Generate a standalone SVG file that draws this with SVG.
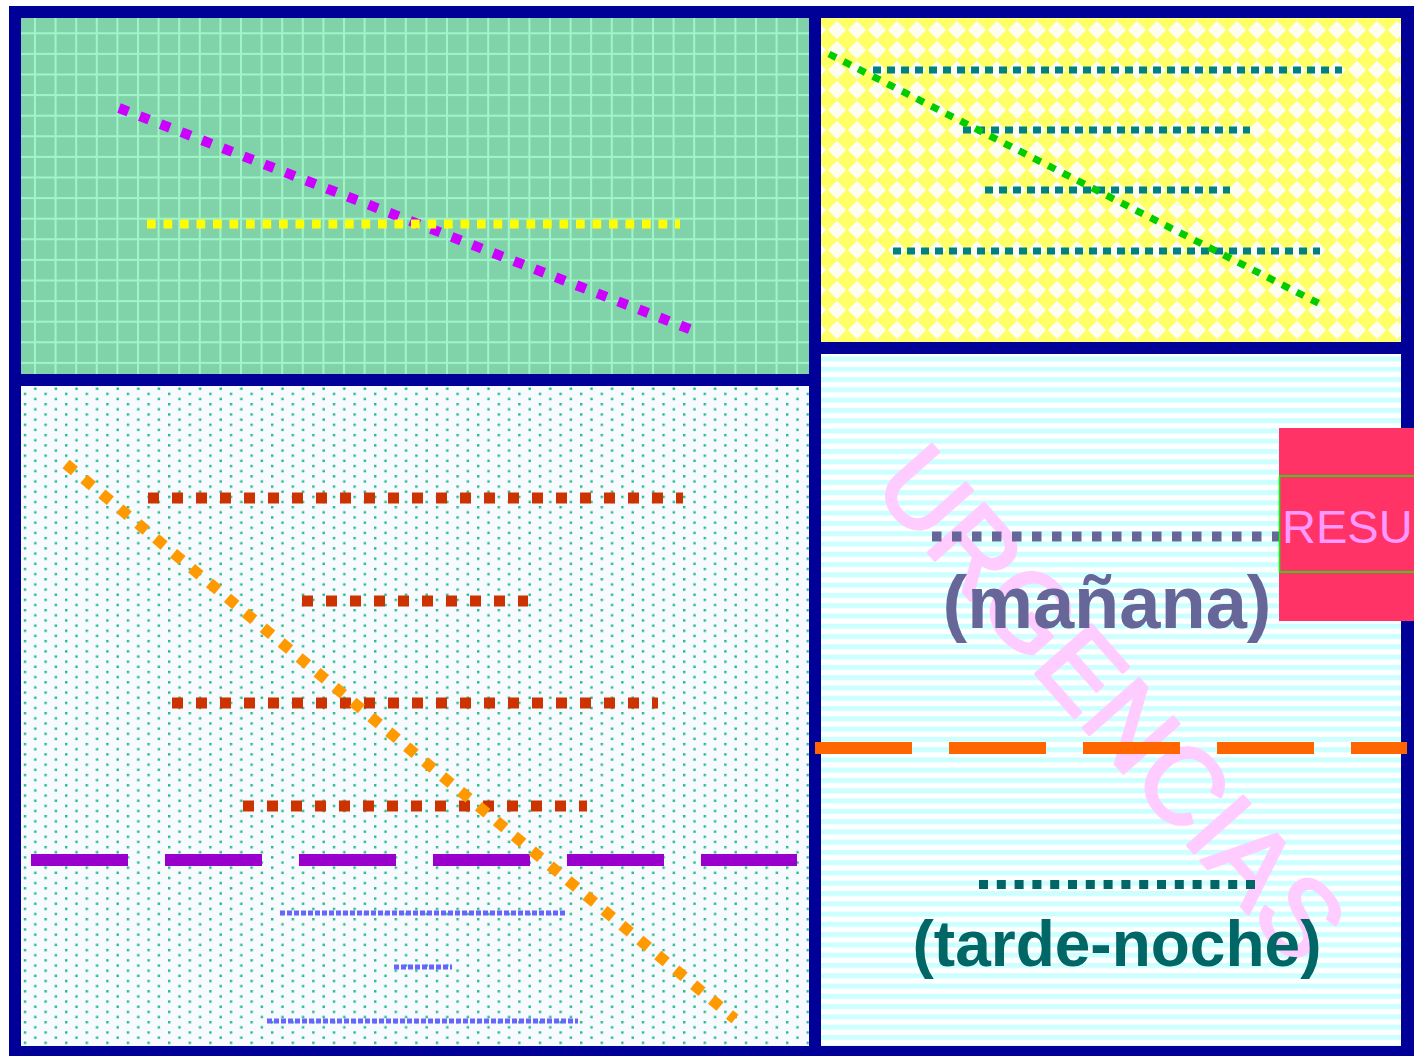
<svg xmlns="http://www.w3.org/2000/svg" width="1414" height="1056" viewBox="0 0 1414 1056">
<defs>
<pattern id="grid" x="34" y="32.3" width="20.6" height="20.6" patternUnits="userSpaceOnUse">
<rect width="20.6" height="20.6" fill="#80d3a8"/>
<rect width="2" height="20.6" fill="#9ff5c8"/>
<rect width="20.6" height="2" fill="#9ff5c8"/>
</pattern>
<pattern id="diam" x="817" y="10" width="20" height="20" patternUnits="userSpaceOnUse">
<rect width="20" height="20" fill="#fdfdf0"/>
<polygon points="10,-0.8 20.8,10 10,20.8 -0.8,10" fill="#ffff66"/>
</pattern>
<pattern id="dots" x="23.8" y="382.4" width="20.6" height="10.3" patternUnits="userSpaceOnUse">
<rect width="20.6" height="10.3" fill="#f7faff"/>
<rect width="2.4" height="2.4" fill="#22bb88"/>
<rect x="10.3" y="5.15" width="2.4" height="2.4" fill="#22bb88"/>
</pattern>
<pattern id="stripes" x="0" y="356.5" width="20" height="10.28" patternUnits="userSpaceOnUse">
<rect width="20" height="10.28" fill="#ffffff"/>
<rect width="20" height="5" fill="#ccffff"/>
</pattern>
<style>
.dot{fill:none;stroke-linecap:butt}
.big{font-family:"Liberation Sans",Arial,sans-serif;font-weight:bold;text-anchor:middle}
</style>
</defs>
<rect width="1414" height="1056" fill="#ffffff"/>
<rect x="9" y="6" width="1405" height="1050" fill="#000099"/>
<g id="panel-top-left"><rect x="21" y="18" width="788" height="356" fill="url(#grid)"/></g>
<g id="panel-top-right"><rect x="821" y="18" width="580" height="324" fill="url(#diam)"/></g>
<g id="panel-bottom-left"><rect x="21" y="386" width="788" height="660" fill="url(#dots)"/></g>
<g id="panel-bottom-right"><rect x="821" y="354" width="580" height="692" fill="url(#stripes)"/></g>
<g id="watermark"><text transform="translate(1083.5,728) rotate(48.5)" x="0" y="0" font-family="Liberation Sans, Arial, sans-serif" font-size="108" fill="#ffccff" stroke="#ffccff" stroke-width="3" stroke-linejoin="round" text-anchor="middle">URGENCIAS</text></g>
<g id="connectors">
<line class="dot" x1="119" y1="108" x2="692" y2="330" stroke="#cc00ff" stroke-width="10" stroke-dasharray="10 12.3"/>
<line class="dot" x1="147" y1="224" x2="680" y2="224" stroke="#ffff00" stroke-width="9" stroke-dasharray="8.7 7.8"/>
<line class="dot" x1="873" y1="70" x2="1342" y2="70" stroke="#008080" stroke-width="7" stroke-dasharray="8 6"/>
<line class="dot" x1="963" y1="130" x2="1250" y2="130" stroke="#008080" stroke-width="7" stroke-dasharray="8 6"/>
<line class="dot" x1="985" y1="190" x2="1230" y2="190" stroke="#008080" stroke-width="7" stroke-dasharray="8 6"/>
<line class="dot" x1="893" y1="251" x2="1320" y2="251" stroke="#008080" stroke-width="7" stroke-dasharray="8 6"/>
<line class="dot" x1="829" y1="54" x2="1320" y2="304" stroke="#00cc00" stroke-width="7" stroke-dasharray="8 8.4"/>
<line class="dot" x1="148" y1="498" x2="683" y2="498" stroke="#cc3300" stroke-width="11" stroke-dasharray="11 13"/>
<line class="dot" x1="302" y1="601" x2="528" y2="601" stroke="#cc3300" stroke-width="11" stroke-dasharray="11 13"/>
<line class="dot" x1="172" y1="703" x2="658" y2="703" stroke="#cc3300" stroke-width="11" stroke-dasharray="11 13"/>
<line class="dot" x1="243" y1="806" x2="587" y2="806" stroke="#cc3300" stroke-width="11" stroke-dasharray="11 13"/>
<line class="dot" x1="31" y1="860" x2="797" y2="860" stroke="#9900cc" stroke-width="12" stroke-dasharray="97 37"/>
<line class="dot" x1="280" y1="913" x2="565" y2="913" stroke="#6666ff" stroke-width="5" stroke-dasharray="5 2"/>
<line class="dot" x1="394" y1="967" x2="452" y2="967" stroke="#6666ff" stroke-width="5" stroke-dasharray="5 2"/>
<line class="dot" x1="267" y1="1021" x2="578" y2="1021" stroke="#6666ff" stroke-width="5" stroke-dasharray="5 2"/>
<line class="dot" x1="66" y1="464" x2="735" y2="1019" stroke="#ff9900" stroke-width="11" stroke-dasharray="11 12.3"/>
<line class="dot" x1="932" y1="536.5" x2="1282" y2="536.5" stroke="#666699" stroke-width="10" stroke-dasharray="9.5 10.5"/>
<line class="dot" x1="815" y1="748" x2="1407" y2="748" stroke="#ff6600" stroke-width="12" stroke-dasharray="97 37"/>
<line class="dot" x1="979" y1="884.5" x2="1255" y2="884.5" stroke="#006666" stroke-width="9" stroke-dasharray="9 8.8"/>
</g>
<g id="label-manana"><text class="big" x="1107" y="628" font-size="74" fill="#666699">(mañana)</text></g>
<g id="label-tarde"><text class="big" x="1117" y="966" font-size="64" fill="#006666">(tarde-noche)</text></g>
<g id="resu">
<rect x="1279" y="428" width="135" height="193" fill="#ff3366"/>
<rect x="1279.5" y="476" width="140" height="96" fill="none" stroke="#00ff00" stroke-width="1.5"/>
<text x="1282" y="543" font-family="Liberation Sans, Arial, sans-serif" font-size="47" fill="#ff99ff">RESU</text>
</g>
</svg>
